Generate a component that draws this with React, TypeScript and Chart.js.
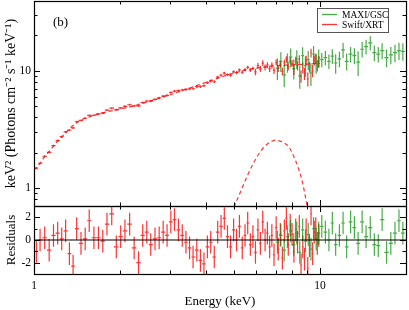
import React, { useEffect, useRef } from "react";
import { Chart, registerables } from "chart.js";
Chart.register(...registerables);

// ---------- data ----------
const xrtEnergy = [1.02,1.05,1.09,1.13,1.17,1.21,1.25,1.29,1.33,1.37,1.41,1.46,1.51,1.56,1.62,1.68,1.74,1.80,1.87,1.94,2.01,2.08,2.16,2.24,2.32,2.40,2.48,2.56,2.65,2.74,2.83,2.92,3.01,3.10,3.20,3.30,3.40,3.50,3.60,3.71,3.82,3.93,4.04,4.15,4.27,4.39,4.51,4.63,4.75,4.87,4.99,5.11,5.23,5.35,5.47,5.59,5.71,5.83,5.95,6.07,6.19,6.31,6.43,6.55,6.67,6.79,6.91,7.03,7.15,7.27,7.39,7.51,7.63,7.75,7.87,7.99,8.11,8.23,8.35,8.47,8.59,8.71,8.83,8.95,9.07,9.19,9.31,9.43,9.55,9.67,9.79,9.91];
const xrtFlux = [1.47,1.62,1.86,2.01,2.29,2.53,2.73,3.00,3.10,3.24,3.66,3.76,3.92,4.15,4.16,4.27,4.34,4.60,4.78,4.63,
  4.80,4.95,5.11,5.00,4.99,5.34,5.50,5.48,5.68,5.84,6.05,6.15,
  6.50,6.68,6.74,6.83,6.90,6.98,7.00,7.29,7.29,7.43,
  7.90,8.15,8.03,8.78,9.12,9.51,9.23,9.13,9.76,
  9.62,10.13,9.68,10.18,10.66,10.09,10.43,9.74,
  10.99,10.33,11.59,10.65,11.11,10.38,11.11,10.02,
  11.72,10.41,11.36,9.86,11.64,12.50,10.80,12.12,11.54,
  10.17,12.09,11.01,12.49,8.94,10.61,9.42,12.30,
  8.46,10.78,14.13,9.95,12.25,12.68,11.08,12.00];
const xrtFluxErr = [0.03,0.03,0.04,0.04,0.045,0.05,0.055,0.06,0.065,0.07,0.07,0.075,0.08,0.08,0.08,0.08,0.085,0.09,0.09,0.09,
  0.1,0.1,0.1,0.11,0.11,0.12,0.12,0.12,0.13,0.13,0.14,0.14,
  0.15,0.15,0.16,0.16,0.17,0.17,0.18,0.18,0.19,0.19,
  0.2,0.25,0.25,0.26,0.27,0.28,0.28,0.29,0.3,
  0.3,0.31,0.32,0.33,0.34,0.35,0.36,0.6,
  0.6,0.62,0.63,0.64,0.65,0.66,0.67,0.68,
  0.7,0.7,0.72,0.73,0.74,0.75,0.76,0.77,0.78,
  1.0,1.0,1.0,1.05,1.05,1.1,1.1,1.1,
  1.15,1.15,1.2,1.2,1.2,1.25,1.25,1.3];
const xrtResid = [-1.0,0.0,0.2,-0.9,0.4,0.6,0.1,0.8,-1.2,-2.3,1.0,-0.3,0.1,1.7,0.2,0.2,-0.1,1.4,2.3,-0.6,
  0.3,0.8,1.4,-0.7,-2.0,0.4,0.7,-0.4,0.1,0.2,0.7,0.4,
  1.6,1.8,0.9,0.4,-0.2,-0.7,-1.5,-0.9,-1.8,-2.1,
  -0.6,-0.2,-1.5,0.7,1.2,1.9,0.3,-0.6,0.9,
  0.0,1.2,-0.7,0.4,1.5,-0.4,0.3,-1.1,
  0.9,-0.3,1.6,0.0,0.6,-0.6,0.4,-1.3,
  1.1,-0.8,0.5,-1.6,0.8,1.9,-0.4,1.3,0.5,
  -1.0,0.9,-0.2,1.2,-2.2,-0.6,-1.7,0.9,
  -2.5,-0.5,2.3,-1.2,0.7,1.0,-0.3,0.4];

const maxiEnergy = [7.1,7.3,7.5,7.7,7.9,8.1,8.3,8.5,8.7,8.9,9.1,9.3,9.5,9.7,9.9,10.15,10.45,10.75,11.05,11.35,11.7,12.05,12.4,12.8,13.2,13.6,14.05,14.5,15.0,15.5,16.0,16.5,17.1,17.7,18.3,18.9,19.5];
const maxiFlux = [10.5,12.0,9.2,11.8,13.0,10.4,12.6,9.0,13.4,11.0,12.4,9.5,13.8,11.6,12.8,12.4,12.9,12.0,13.3,11.6,12.6,15.0,12.0,13.8,13.4,11.8,15.2,16.0,17.2,14.2,13.8,14.8,12.9,13.6,14.2,14.8,14.6];
const maxiFluxErr = [2.2,2.3,2.0,2.2,2.4,2.0,2.3,2.0,2.4,2.2,2.3,2.1,2.4,2.2,2.3,1.7,1.8,1.7,1.9,2.2,1.9,2.2,2.0,2.1,2.1,2.8,2.3,2.3,2.4,2.2,2.1,2.3,2.2,2.3,2.4,2.5,2.5];
const maxiResid = [-0.2,0.4,-0.9,0.3,0.8,-0.4,0.6,-1.1,0.9,-0.1,0.5,-0.8,1.0,0.1,0.6,1.2,0.7,0.0,1.5,-0.4,0.4,1.5,-0.6,1.6,1.1,-0.3,1.6,0.3,1.1,-0.4,-0.5,1.8,-1.1,-0.3,0.6,1.7,0.6];

const modelEnergy = [1.0,1.05,1.1,1.15,1.2,1.25,1.3,1.35,1.4,1.45,1.5,1.6,1.7,1.8,2.0,2.2,2.5,2.8,3.0,3.3,3.5,3.8,4.0,4.3,4.6,5.0,5.5,6.0,6.5,7.0,7.5,8.0,9.0,10.0];
const modelFlux = [1.42,1.62,1.9,2.15,2.45,2.72,3.0,3.3,3.55,3.75,3.9,4.1,4.3,4.45,4.7,4.95,5.42,5.9,6.22,6.75,7.1,7.6,7.95,8.45,8.95,9.5,10.1,10.5,10.8,11.0,11.1,11.2,11.35,11.5];

const lineEnergy = [4.9,5.0,5.3,5.6,5.9,6.2,6.5,6.8,7.0,7.2,7.5,7.8,8.1,8.4,8.7,9.0,9.2];
const lineFlux = [0.6,0.68,0.95,1.3,1.68,2.05,2.33,2.5,2.55,2.52,2.42,2.22,1.85,1.48,1.1,0.72,0.55];

const xLabelTicks = [1, 10];
const xMinorTicks = [2, 3, 4, 5, 6, 7, 8, 9, 20];
const yTopLabelTicks = [1, 10];
const yTopMinorTicks = [0.8, 0.9, 2, 3, 4, 5, 6, 7, 8, 9, 20, 30];
const yResLabelTicks = [-2, 0, 2];
const yResMinorTicks = [-1, 1];

const seriesNames = ["MAXI/GSC", "Swift/XRT"];
const panelLabel = "(b)";

// ---------- styling ----------
const FONT = "'Liberation Serif', 'Times New Roman', serif";
const RED = "rgba(255,0,0,0.8)";
const GREEN = "rgba(0,140,0,0.72)";

function binEdges(c: number[]) {
  const lo: number[] = [];
  const hi: number[] = [];
  for (let i = 0; i < c.length; i++) {
    const prev = i > 0 ? Math.sqrt(c[i - 1] * c[i]) : null;
    const next = i < c.length - 1 ? Math.sqrt(c[i] * c[i + 1]) : null;
    lo.push(prev !== null ? prev : (c[i] * c[i]) / (next as number));
    hi.push(next !== null ? next : (c[i] * c[i]) / (prev as number));
  }
  return { lo, hi };
}

function crosses(E: number[], V: number[], err: number[] | null) {
  const { lo, hi } = binEdges(E);
  return E.map((e, i) => {
    const d = err ? err[i] : 1;
    return { x: e, y: V[i], xl: lo[i], xh: hi[i], yl: V[i] - d, yh: V[i] + d };
  });
}

const errorBarPlugin = {
  id: "errorBars",
  beforeDatasetDraw(chart: any, args: any) {
    const ds = chart.data.datasets[args.index];
    const ys = chart.scales[ds.yAxisID];
    const ca = chart.chartArea;
    const ctx = chart.ctx;
    ctx.save();
    ctx.beginPath();
    ctx.rect(ca.left, ys.top, ca.right - ca.left, ys.bottom - ys.top);
    ctx.clip();
  },
  afterDatasetDraw(chart: any, args: any) {
    const ds = chart.data.datasets[args.index];
    const ctx = chart.ctx;
    if (ds.errorBars) {
      const xs = chart.scales.x;
      const ys = chart.scales[ds.yAxisID];
      ctx.strokeStyle = ds.borderColor;
      ctx.lineWidth = 1.2;
      for (const p of ds.data) {
        const px = xs.getPixelForValue(p.x);
        const py = ys.getPixelForValue(p.y);
        ctx.beginPath();
        ctx.moveTo(xs.getPixelForValue(p.xl), py);
        ctx.lineTo(xs.getPixelForValue(p.xh), py);
        ctx.moveTo(px, ys.getPixelForValue(p.yl));
        ctx.lineTo(px, ys.getPixelForValue(p.yh));
        ctx.stroke();
      }
    }
    ctx.restore();
  },
};

const frameTicksPlugin = {
  id: "frameTicks",
  afterDatasetsDraw(chart: any) {
    const ctx = chart.ctx;
    const xs = chart.scales.x;
    const yt = chart.scales.y;
    const yr = chart.scales.yr;
    const L = chart.chartArea.left;
    const R = chart.chartArea.right;
    const r = (v: number) => Math.round(v) + 0.5;
    ctx.save();
    ctx.strokeStyle = "#000";
    ctx.lineWidth = 1;
    const line = (x1: number, y1: number, x2: number, y2: number) => {
      ctx.beginPath();
      ctx.moveTo(x1, y1);
      ctx.lineTo(x2, y2);
      ctx.stroke();
    };
    const xt = [...xLabelTicks.map((v) => [v, 6]), ...xMinorTicks.map((v) => [v, 3.5])];
    for (const [v, len] of xt) {
      const px = r(xs.getPixelForValue(v));
      line(px, yt.top, px, yt.top + len);
      line(px, yt.bottom, px, yt.bottom - len);
      line(px, yr.top, px, yr.top + len);
      line(px, yr.bottom, px, yr.bottom - len);
    }
    const ytt = [...yTopLabelTicks.map((v) => [v, 6]), ...yTopMinorTicks.map((v) => [v, 3.5])];
    for (const [v, len] of ytt) {
      const py = r(yt.getPixelForValue(v));
      if (py < yt.top || py > yt.bottom) continue;
      line(L, py, L + len, py);
      line(R, py, R - len, py);
    }
    const yrt = [...yResLabelTicks.map((v) => [v, 6]), ...yResMinorTicks.map((v) => [v, 3.5])];
    for (const [v, len] of yrt) {
      const py = r(yr.getPixelForValue(v));
      line(L, py, L + len, py);
      line(R, py, R - len, py);
    }
    ctx.lineWidth = 1.2;
    ctx.strokeRect(r(L), r(yt.top), Math.round(R - L), Math.round(yt.bottom - yt.top));
    ctx.strokeRect(r(L), r(yr.top), Math.round(R - L), Math.round(yr.bottom - yr.top));
    ctx.restore();
  },
  afterDraw(chart: any) {
    const ctx = chart.ctx;
    const ca = chart.chartArea;
    const yt = chart.scales.y;
    ctx.save();
    ctx.fillStyle = "#000";
    ctx.font = `13px ${FONT}`;
    ctx.textAlign = "left";
    ctx.textBaseline = "middle";
    ctx.fillText(panelLabel, ca.left + 19, yt.top + 22);
    const bx = ca.right - 89;
    const by = yt.top + 7;
    const bw = 71;
    const bh = 24;
    ctx.fillStyle = "#fff";
    ctx.fillRect(bx, by, bw, bh);
    ctx.strokeStyle = "#555";
    ctx.lineWidth = 1;
    ctx.strokeRect(bx + 0.5, by + 0.5, bw, bh);
    const cols = [GREEN, RED];
    ctx.font = `9.5px ${FONT}`;
    for (let i = 0; i < seriesNames.length; i++) {
      const ly = by + 6.5 + i * 10;
      ctx.strokeStyle = cols[i];
      ctx.lineWidth = 1.3;
      ctx.beginPath();
      ctx.moveTo(bx + 5, ly);
      ctx.lineTo(bx + 20, ly);
      ctx.stroke();
      ctx.fillStyle = "#000";
      ctx.fillText(seriesNames[i], bx + 25, ly + 0.5);
    }
    ctx.restore();
  },
};

export default function App() {
  const ref = useRef<HTMLCanvasElement | null>(null);
  useEffect(() => {
    if (!ref.current) return;
    const tickFont = { family: FONT, size: 11.5 };
    const titleFont = { family: FONT, size: 13 };
    const yTitleFont = { family: FONT, size: 14 };
    const noPad = (s: any) => {
      s.width = 34;
      s.paddingTop = 0;
      s.paddingBottom = 0;
    };
    const chart = new Chart(ref.current, {
      type: "scatter",
      data: {
        datasets: [
          {
            label: "zero",
            type: "line",
            data: [{ x: 1, y: 0 }, { x: 20, y: 0 }],
            yAxisID: "yr",
            borderColor: "#000",
            borderWidth: 1.2,
            pointRadius: 0,
          } as any,
          {
            label: "line",
            type: "line",
            data: lineEnergy.map((e, i) => ({ x: e, y: lineFlux[i] })),
            yAxisID: "y",
            borderColor: RED,
            borderWidth: 1.2,
            borderDash: [4, 3],
            pointRadius: 0,
            cubicInterpolationMode: "monotone",
          } as any,
          {
            label: "model",
            type: "line",
            data: modelEnergy.map((e, i) => ({ x: e, y: modelFlux[i] })),
            yAxisID: "y",
            borderColor: RED,
            borderWidth: 1.2,
            borderDash: [4, 3],
            pointRadius: 0,
            cubicInterpolationMode: "monotone",
          } as any,
          {
            label: seriesNames[0],
            data: crosses(maxiEnergy, maxiFlux, maxiFluxErr),
            yAxisID: "y",
            borderColor: GREEN,
            pointRadius: 0,
            errorBars: true,
          } as any,
          {
            label: seriesNames[1],
            data: crosses(xrtEnergy, xrtFlux, xrtFluxErr),
            yAxisID: "y",
            borderColor: RED,
            pointRadius: 0,
            errorBars: true,
          } as any,
          {
            label: seriesNames[0] + " res",
            data: crosses(maxiEnergy, maxiResid, null),
            yAxisID: "yr",
            borderColor: GREEN,
            pointRadius: 0,
            errorBars: true,
          } as any,
          {
            label: seriesNames[1] + " res",
            data: crosses(xrtEnergy, xrtResid, null),
            yAxisID: "yr",
            borderColor: RED,
            pointRadius: 0,
            errorBars: true,
          } as any,
        ],
      },
      options: {
        animation: false,
        responsive: false,
        maintainAspectRatio: false,
        events: [],
        layout: { padding: { left: 0, right: 3, top: 1, bottom: 0 } },
        plugins: { legend: { display: false }, tooltip: { enabled: false } },
        scales: {
          x: {
            type: "logarithmic",
            position: "bottom",
            min: 1,
            max: 20,
            grid: { display: false, drawTicks: false },
            border: { display: false },
            afterBuildTicks: (s: any) => {
              s.ticks = xLabelTicks.map((v) => ({ value: v }));
            },
            ticks: {
              callback: (v: any) => String(v),
              font: tickFont,
              color: "#000",
              padding: 5,
              maxRotation: 0,
              autoSkip: false,
            },
            title: { display: true, text: "Energy (keV)", font: titleFont, color: "#000", padding: { top: 0, bottom: 1 } },
            afterFit: (s: any) => {
              s.height = 36;
              s.paddingLeft = 0;
              s.paddingRight = 0;
            },
          },
          yr: {
            type: "linear",
            position: "left",
            stack: "v",
            stackWeight: 68,
            min: -3,
            max: 3,
            grid: { display: false, drawTicks: false },
            border: { display: false },
            afterBuildTicks: (s: any) => {
              s.ticks = yResLabelTicks.map((v) => ({ value: v }));
            },
            ticks: { callback: (v: any) => String(v), font: tickFont, color: "#000", padding: 3, autoSkip: false },
            title: { display: true, text: "Residuals", font: titleFont, color: "#000", padding: { top: 4, bottom: 0 } },
            afterFit: noPad,
          },
          y: {
            type: "logarithmic",
            position: "left",
            stack: "v",
            stackWeight: 205,
            min: 0.718,
            max: 39.2,
            grid: { display: false, drawTicks: false },
            border: { display: false },
            afterBuildTicks: (s: any) => {
              s.ticks = yTopLabelTicks.map((v) => ({ value: v }));
            },
            ticks: { callback: (v: any) => String(v), font: tickFont, color: "#000", padding: 3, autoSkip: false },
            title: {
              display: true,
              text: "keV² (Photons cm⁻² s⁻¹ keV⁻¹)",
              font: yTitleFont,
              color: "#000",
              padding: { top: 3, bottom: 0 },
            },
            afterFit: noPad,
          },
        },
      } as any,
      plugins: [errorBarPlugin, frameTicksPlugin],
    });
    return () => chart.destroy();
  }, []);
  return (
    <div style={{ position: "absolute", left: 0, top: 0, width: 409, height: 310, background: "#fff" }}>
      <canvas ref={ref} width={409} height={310} style={{ display: "block", width: 409, height: 310 }} />
    </div>
  );
}
